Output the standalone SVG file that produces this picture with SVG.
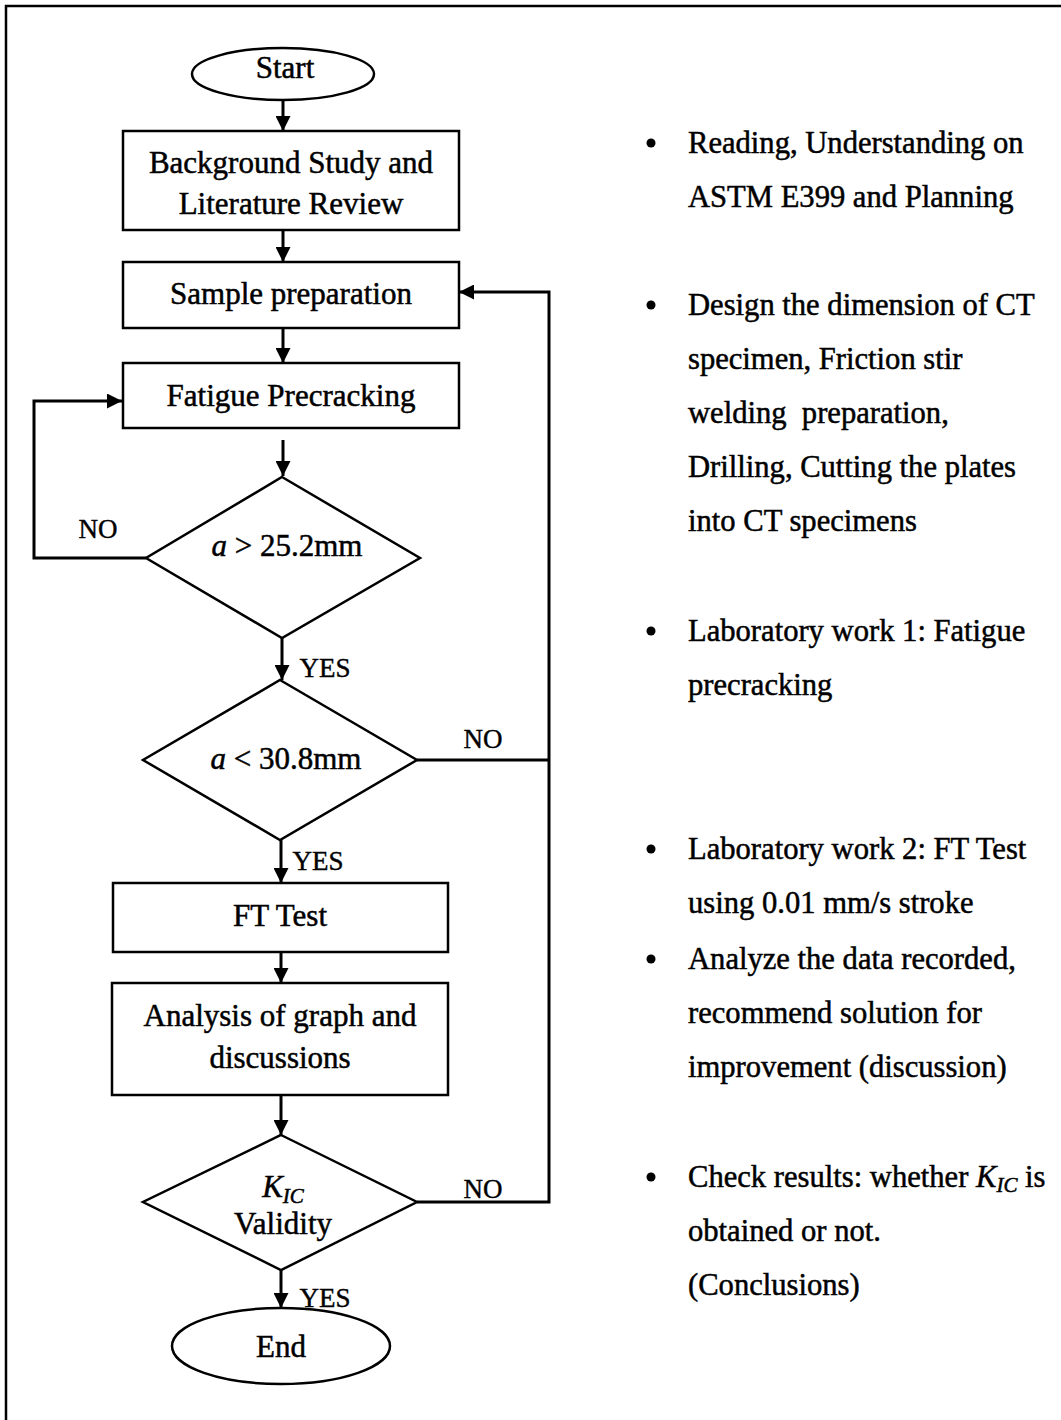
<svg xmlns="http://www.w3.org/2000/svg" width="1061" height="1420" viewBox="0 0 1061 1420">
<style>
.shape{fill:#fff;stroke:#000;stroke-width:2.5}
.conn{fill:none;stroke:#000;stroke-width:3}
.t{font-family:"Liberation Serif","Times New Roman",serif;font-size:31px;fill:#000;stroke:#000;stroke-width:0.5;text-anchor:middle}
.lbl{font-family:"Liberation Serif","Times New Roman",serif;font-size:27px;fill:#000;stroke:#000;stroke-width:0.4;text-anchor:middle}
.r{font-family:"Liberation Serif","Times New Roman",serif;font-size:30.6px;fill:#000;stroke:#000;stroke-width:0.5}
.i{font-style:italic}
</style>
<defs>
<marker id="ah" viewBox="0 0 15 15" refX="15" refY="7.5" markerWidth="15" markerHeight="15" markerUnits="userSpaceOnUse" orient="auto">
<path d="M0,0 L15,7.5 L0,15 z" fill="#000"/>
</marker>
</defs>
<rect width="1061" height="1420" fill="#fff"/>
<g id="frame">
<polyline points="6,1420 6,6 1061,6" fill="none" stroke="#000" stroke-width="2.5"/>
</g>

<g id="connectors">
<line class="conn" x1="283" y1="101" x2="283" y2="131" marker-end="url(#ah)"/>
<line class="conn" x1="283" y1="230" x2="283" y2="262" marker-end="url(#ah)"/>
<line class="conn" x1="283" y1="328" x2="283" y2="363" marker-end="url(#ah)"/>
<line class="conn" x1="283" y1="440" x2="283" y2="476" marker-end="url(#ah)"/>
<polyline class="conn" points="146,558 34,558 34,401 122,401" marker-end="url(#ah)"/>
<line class="conn" x1="282" y1="638" x2="282" y2="680" marker-end="url(#ah)"/>
<line class="conn" x1="417" y1="760" x2="549" y2="760"/>
<line class="conn" x1="281" y1="840" x2="281" y2="883" marker-end="url(#ah)"/>
<line class="conn" x1="281" y1="952" x2="281" y2="983" marker-end="url(#ah)"/>
<line class="conn" x1="281" y1="1095" x2="281" y2="1135" marker-end="url(#ah)"/>
<polyline class="conn" points="417,1202 549,1202 549,292 459,292" marker-end="url(#ah)"/>
<line class="conn" x1="281" y1="1270" x2="281" y2="1308" marker-end="url(#ah)"/>
<text class="lbl" x="98" y="538">NO</text>
<text class="lbl" x="325" y="677">YES</text>
<text class="lbl" x="483" y="748">NO</text>
<text class="lbl" x="318" y="870">YES</text>
<text class="lbl" x="483" y="1198">NO</text>
<text class="lbl" x="325" y="1307">YES</text>
</g>

<g id="start">
<ellipse class="shape" cx="283" cy="74" rx="91" ry="26"/>
<text class="t" x="285" y="78">Start</text>
</g>
<g id="background">
<rect class="shape" x="123" y="131" width="336" height="99"/>
<text class="t" x="291" y="173">Background Study and</text>
<text class="t" x="291" y="214">Literature Review</text>
</g>
<g id="sample">
<rect class="shape" x="123" y="262" width="336" height="66"/>
<text class="t" x="291" y="304">Sample preparation</text>
</g>
<g id="fatigue">
<rect class="shape" x="123" y="363" width="336" height="65"/>
<text class="t" x="291" y="406">Fatigue Precracking</text>
</g>
<g id="dec1">
<polygon class="shape" points="282,477 420,558 282,638 146,558"/>
<text class="t" x="287" y="556"><tspan class="i">a</tspan> &gt; 25.2mm</text>
</g>
<g id="dec2">
<polygon class="shape" points="280,680 417,760 280,840 143,760"/>
<text class="t" x="286" y="769"><tspan class="i">a</tspan> &lt; 30.8mm</text>
</g>
<g id="fttest">
<rect class="shape" x="113" y="883" width="335" height="69"/>
<text class="t" x="280" y="926">FT Test</text>
</g>
<g id="analysis">
<rect class="shape" x="112" y="983" width="336" height="112"/>
<text class="t" x="280" y="1026">Analysis of graph and</text>
<text class="t" x="280" y="1068">discussions</text>
</g>
<g id="dec3">
<polygon class="shape" points="281,1135 417,1202 281,1270 143,1202"/>
<text class="t" x="283" y="1197"><tspan class="i">K</tspan><tspan class="i" font-size="21" dy="6">IC</tspan></text>
<text class="t" x="283" y="1234">Validity</text>
</g>
<g id="end">
<ellipse class="shape" cx="281" cy="1346" rx="109" ry="38"/>
<text class="t" x="281" y="1357">End</text>
</g>

<g id="notes">
<circle cx="651" cy="143" r="4.5"/>
<text class="r" x="688" y="153">Reading, Understanding on</text>
<text class="r" x="688" y="207">ASTM E399 and Planning</text>
<circle cx="651" cy="305" r="4.5"/>
<text class="r" x="688" y="315">Design the dimension of CT</text>
<text class="r" x="688" y="369">specimen, Friction stir</text>
<text class="r" x="688" y="423" xml:space="preserve">welding  preparation,</text>
<text class="r" x="688" y="477">Drilling, Cutting the plates</text>
<text class="r" x="688" y="531">into CT specimens</text>
<circle cx="651" cy="631" r="4.5"/>
<text class="r" x="688" y="641">Laboratory work 1: Fatigue</text>
<text class="r" x="688" y="695">precracking</text>
<circle cx="651" cy="849" r="4.5"/>
<text class="r" x="688" y="859">Laboratory work 2: FT Test</text>
<text class="r" x="688" y="913">using 0.01 mm/s stroke</text>
<circle cx="651" cy="959" r="4.5"/>
<text class="r" x="688" y="969">Analyze the data recorded,</text>
<text class="r" x="688" y="1023">recommend solution for</text>
<text class="r" x="688" y="1077">improvement (discussion)</text>
<circle cx="651" cy="1177" r="4.5"/>
<text class="r" x="688" y="1187">Check results: whether <tspan class="i">K</tspan><tspan class="i" font-size="21" dy="5">IC</tspan><tspan dy="-5"> is</tspan></text>
<text class="r" x="688" y="1241">obtained or not.</text>
<text class="r" x="688" y="1295">(Conclusions)</text>
</g>
</svg>
